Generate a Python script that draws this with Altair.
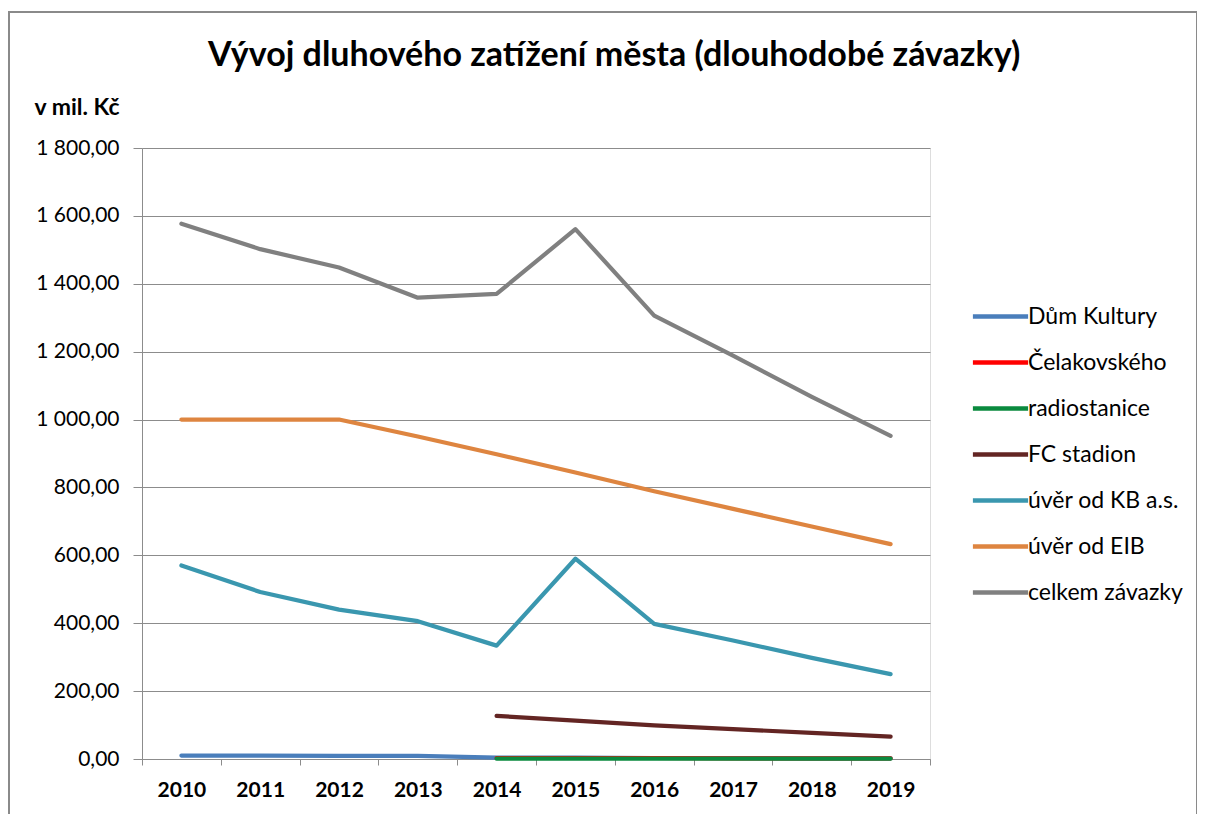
import altair as alt
import pandas as pd

years = ["2010", "2011", "2012", "2013", "2014", "2015", "2016", "2017", "2018", "2019"]
series = ["Dům Kultury", "Čelakovského", "radiostanice", "FC stadion",
          "úvěr od KB a.s.", "úvěr od EIB", "celkem závazky"]
colors = ["#4A7EBB", "#FF0000", "#0A8A3E", "#632523", "#3A97AF", "#DE8540", "#808080"]

dum_kultury = [10, 10, 9, 9, 4, 4, 3, 3, 2, 2]
celakovskeho = [None, None, None, None, 3, 3, 3, 2, 2, 2]
radiostanice = [None, None, None, None, 1, 1, 1, 1, 1, 1]
fc_stadion = [None, None, None, None, 127, 113, 99, 88, 77, 66]
uver_kb = [570, 492, 440, 406, 334, 590, 398, 349, 298, 250]
uver_eib = [1000, 1000, 1000, 950, 898, 844, 789, 737, 685, 633]
celkem = [1577, 1502, 1448, 1359, 1370, 1561, 1306, 1188, 1067, 952]

values = [dum_kultury, celakovskeho, radiostanice, fc_stadion, uver_kb, uver_eib, celkem]

rows = []
for i, (name, vals) in enumerate(zip(series, values)):
    for y, v in zip(years, vals):
        if v is not None:
            rows.append({"rok": y, "serie": name, "hodnota": v, "poradi": i})
df = pd.DataFrame(rows)

FONT = "Lato"
GRID = "#8C8C8C"

y_label_expr = "replace(replace(format(datum.value, ',.2f'), ',', ' '), '.', ',')"

lines = alt.Chart(df).mark_line(strokeWidth=4.2, strokeCap="round", strokeJoin="round").encode(
    x=alt.X("rok:N", sort=years,
            scale=alt.Scale(type="band", paddingInner=0, paddingOuter=0),
            axis=alt.Axis(title=None, labelAngle=0, grid=False, tickBand="extent",
                          labelFont=FONT, labelFontSize=21, labelFontWeight="bold",
                          labelColor="black", labelPadding=14, tickSize=6,
                          tickColor=GRID, domainColor=GRID)),
    y=alt.Y("hodnota:Q",
            scale=alt.Scale(domain=[0, 1800], nice=False, zero=True),
            axis=alt.Axis(values=list(range(0, 1801, 200)), labelExpr=y_label_expr,
                          title="v mil. Kč", titleAngle=0, titleAlign="left",
                          titleBaseline="alphabetic", titleX=-108, titleY=-34,
                          titleFont=FONT, titleFontSize=23, titleFontWeight="bold",
                          titleColor="black",
                          labelFont=FONT, labelFontSize=21, labelColor="black",
                          labelPadding=14, tickSize=9, tickColor=GRID,
                          domainColor=GRID, gridColor=GRID, gridWidth=1)),
    color=alt.Color("serie:N",
                    scale=alt.Scale(domain=series, range=colors),
                    legend=alt.Legend(title=None, orient="none", legendX=833, legendY=143,
                                      symbolType="M-1.2,0L1.2,0", symbolSize=2116,
                                      symbolStrokeWidth=4.5, labelFont=FONT,
                                      labelFontSize=23, labelColor="black",
                                      labelOffset=2, rowPadding=8, padding=0)),
    order=alt.Order("poradi:Q"),
    detail="poradi:N",
)

border = alt.Chart(pd.DataFrame({"r": [0]})).mark_rect(
    fill="white", fillOpacity=0, stroke="#8A8A8A", strokeWidth=2
).encode(
    x=alt.value(-133), x2=alt.value(1055), y=alt.value(-136), y2=alt.value(700)
)

chart = alt.layer(border, lines).properties(
    width=788,
    height=611,
    autosize=alt.AutoSizeParams(type="none"),
    padding={"left": 134, "top": 140, "right": 267, "bottom": 55},
    title=alt.TitleParams(
        "Vývoj dluhového zatížení města (dlouhodobé závazky)",
        font=FONT, fontSize=34, fontWeight="bold", color="black",
        anchor="start", frame="group", dx=66, offset=-89, baseline="alphabetic"),
).configure_view(strokeWidth=0).configure(background="white")

chart.save("out.html", embed_options={"renderer": "svg", "actions": False})
